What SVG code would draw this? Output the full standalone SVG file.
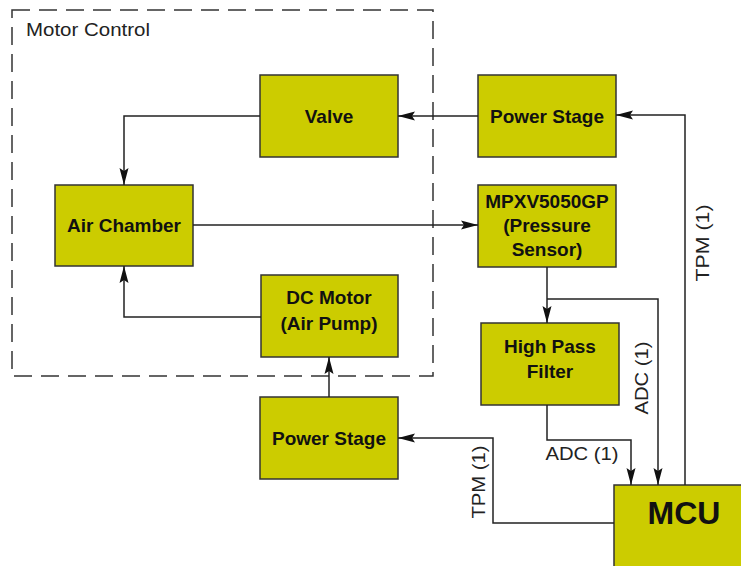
<svg xmlns="http://www.w3.org/2000/svg" width="741" height="566" viewBox="0 0 741 566">
<style>
.box{fill:#cccc00;stroke:#333;stroke-width:1.5}
.t{font-family:"Liberation Sans",Arial,sans-serif;font-weight:bold;font-size:19px;fill:#111;text-anchor:middle}
.lbl{font-family:"Liberation Sans",Arial,sans-serif;font-size:18px;fill:#222;text-anchor:middle}
.w{fill:none;stroke:#222;stroke-width:1.5}
</style>
<defs>
<marker id="ah" markerUnits="userSpaceOnUse" markerWidth="18" markerHeight="12" viewBox="0 -6 18 12" refX="17" refY="0" orient="auto">
<path d="M0,-4.5 L17,0 L0,4.5 L3,0 z" fill="#111"/>
</marker>
</defs>
<rect width="741" height="566" fill="#fff"/>
<g id="motor-control">
<rect x="12" y="10" width="421" height="366" fill="none" stroke="#333" stroke-width="1.5" stroke-dasharray="18 9"/>
<text x="26" y="36" font-family="'Liberation Sans',Arial,sans-serif" font-size="18" fill="#222" textLength="124" lengthAdjust="spacingAndGlyphs">Motor Control</text>
</g>
<g id="valve"><rect class="box" x="260" y="75" width="138" height="82"/><text class="t" x="329" y="123">Valve</text></g>
<g id="air-chamber"><rect class="box" x="55" y="185" width="138" height="81"/><text class="t" x="124" y="232">Air Chamber</text></g>
<g id="dc-motor"><rect class="box" x="261" y="275" width="137" height="82"/><text class="t" x="329" y="304">DC Motor</text><text class="t" x="329" y="330">(Air Pump)</text></g>
<g id="power-stage-2"><rect class="box" x="260" y="397" width="138" height="82"/><text class="t" x="329" y="445">Power Stage</text></g>
<g id="power-stage-1"><rect class="box" x="478" y="75" width="138" height="82"/><text class="t" x="547" y="123">Power Stage</text></g>
<g id="pressure-sensor"><rect class="box" x="478" y="185" width="138" height="82"/><text class="t" x="547" y="208">MPXV5050GP</text><text class="t" x="547" y="232">(Pressure</text><text class="t" x="547" y="256">Sensor)</text></g>
<g id="high-pass-filter"><rect class="box" x="481" y="323" width="138" height="82"/><text class="t" x="550" y="353">High Pass</text><text class="t" x="550" y="378">Filter</text></g>
<g id="mcu"><rect class="box" x="614" y="485" width="140" height="100"/><text class="t" x="684" y="524" font-size="32" style="font-size:32px">MCU</text></g>
<g id="connectors">
<path class="w" d="M478,116 L398,116" marker-end="url(#ah)"/>
<path class="w" d="M260,116 L124,116 L124,185" marker-end="url(#ah)"/>
<path class="w" d="M193,225 L478,225" marker-end="url(#ah)"/>
<path class="w" d="M261,317 L124,317 L124,266" marker-end="url(#ah)"/>
<path class="w" d="M329,397 L329,357" marker-end="url(#ah)"/>
<path class="w" d="M547,267 L547,323" marker-end="url(#ah)"/>
<path class="w" d="M547,299 L658,299 L658,485" marker-end="url(#ah)"/>
<path class="w" d="M547,405 L547,440 L631,440 L631,485" marker-end="url(#ah)"/>
<path class="w" d="M614,523 L493,523 L493,438 L398,438" marker-end="url(#ah)"/>
<path class="w" d="M685,485 L685,115 L616,115" marker-end="url(#ah)"/>
<text class="lbl" transform="translate(709,243) rotate(-90)" textLength="77" lengthAdjust="spacingAndGlyphs">TPM (1)</text>
<text class="lbl" transform="translate(648,378) rotate(-90)" textLength="73" lengthAdjust="spacingAndGlyphs">ADC (1)</text>
<text class="lbl" x="582" y="460" textLength="73" lengthAdjust="spacingAndGlyphs">ADC (1)</text>
<text class="lbl" transform="translate(485,482) rotate(-90)" textLength="73" lengthAdjust="spacingAndGlyphs">TPM (1)</text>
</g>
</svg>
